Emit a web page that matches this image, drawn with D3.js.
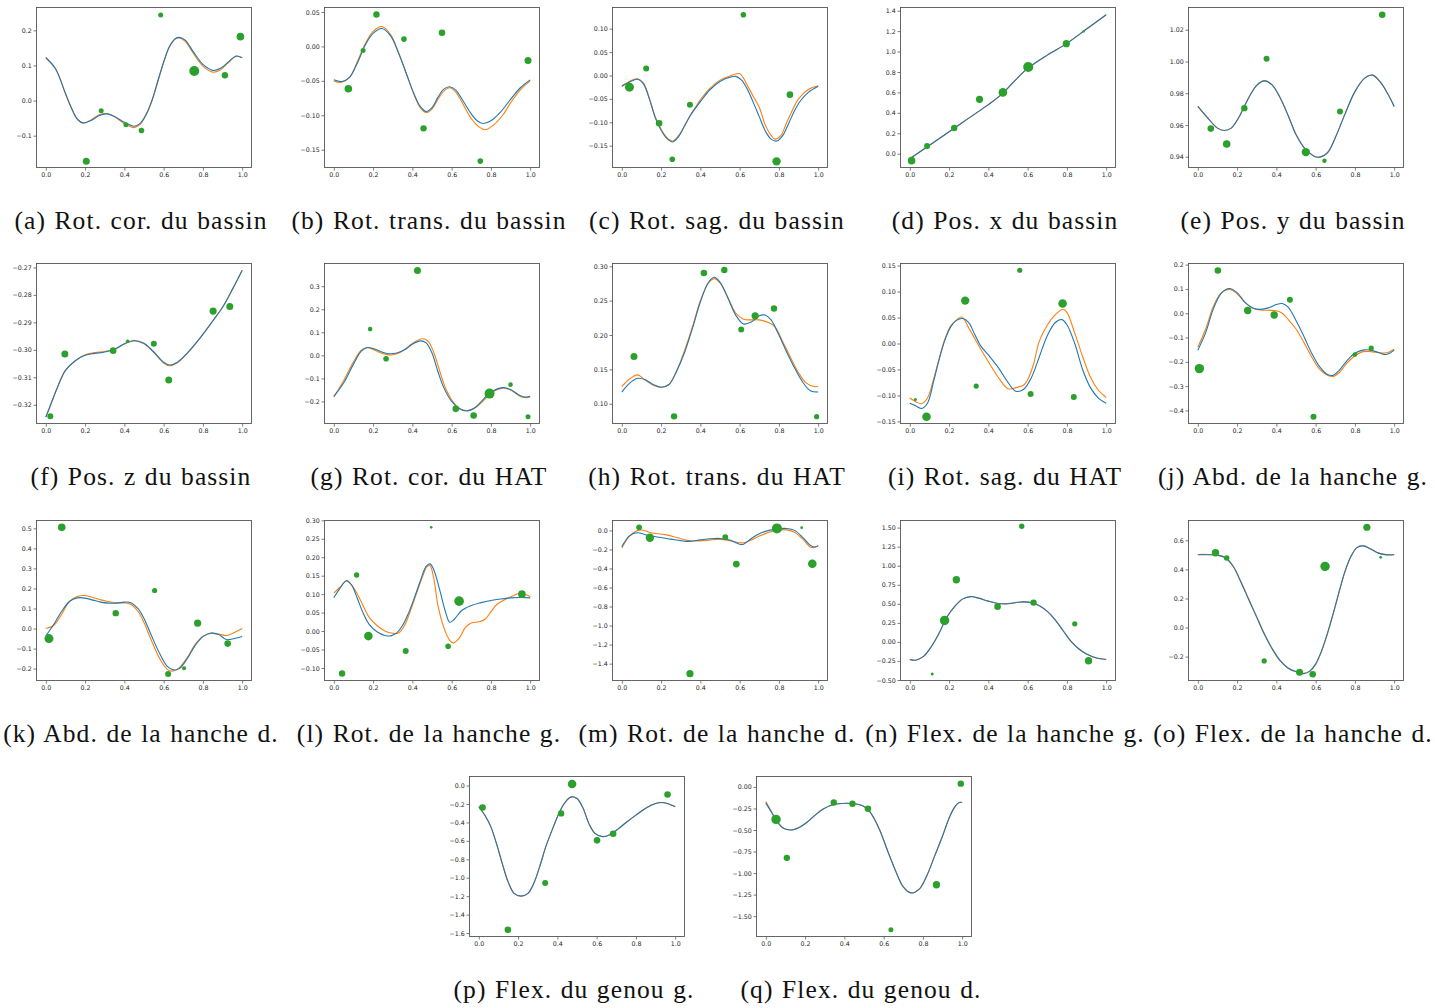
<!DOCTYPE html>
<html><head><meta charset="utf-8">
<script src="https://cdn.jsdelivr.net/npm/d3@7"></script>
<style>body{margin:0;background:#fff}svg{display:block}
.cap{font-family:"Liberation Serif","Times New Roman",serif;font-size:25.5px;letter-spacing:1.1px;word-spacing:1px;fill:#111}
.tk{font-family:"DejaVu Sans",sans-serif;font-size:6.3px;fill:#262626}
</style>
</head><body><svg id="c" width="1435" height="1008"></svg>
<script>
// ---------- data ----------
const captions = ["(a) Rot. cor. du bassin","(b) Rot. trans. du bassin","(c) Rot. sag. du bassin","(d) Pos. x du bassin","(e) Pos. y du bassin",
"(f) Pos. z du bassin","(g) Rot. cor. du HAT","(h) Rot. trans. du HAT","(i) Rot. sag. du HAT","(j) Abd. de la hanche g.",
"(k) Abd. de la hanche d.","(l) Rot. de la hanche g.","(m) Rot. de la hanche d.","(n) Flex. de la hanche g.","(o) Flex. de la hanche d.",
"(p) Flex. du genou g.","(q) Flex. du genou d."];
const xTicks = [0,0.2,0.4,0.6,0.8,1.0];
const yDomains = [[-0.192,0.2665],[-0.1766,0.0573],[-0.1977,0.1463],[-0.140,1.436],[0.9329,1.0343],
[-0.327,-0.2684],[-0.2978,0.4007],[0.0705,0.3048],[-0.155,0.155],[-0.456,0.2068],
[-0.2617,0.5417],[-0.1353,0.3009],[-1.582,0.109],[-0.513,1.60],[-0.368,0.740],
[-1.643,0.104],[-1.742,0.127]];
const yTicks = [[-0.1,0,0.1,0.2],[-0.15,-0.10,-0.05,0,0.05],[-0.15,-0.10,-0.05,0,0.05,0.10],[0,0.2,0.4,0.6,0.8,1.0,1.2,1.4],[0.94,0.96,0.98,1.00,1.02],
[-0.32,-0.31,-0.30,-0.29,-0.28,-0.27],[-0.2,-0.1,0,0.1,0.2,0.3],[0.10,0.15,0.20,0.25,0.30],[-0.15,-0.10,-0.05,0,0.05,0.10,0.15],[-0.4,-0.3,-0.2,-0.1,0,0.1,0.2],
[-0.2,-0.1,0,0.1,0.2,0.3,0.4,0.5],[-0.10,-0.05,0,0.05,0.10,0.15,0.20,0.25,0.30],[-1.4,-1.2,-1.0,-0.8,-0.6,-0.4,-0.2,0],[-0.50,-0.25,0,0.25,0.50,0.75,1.00,1.25,1.50],[-0.2,0,0.2,0.4,0.6],
[-1.6,-1.4,-1.2,-1.0,-0.8,-0.6,-0.4,-0.2,0],[-1.50,-1.25,-1.00,-0.75,-0.50,-0.25,0]];
const yDecimals = [1,2,2,1,2, 2,1,2,2,1, 1,2,1,2,1, 1,2];

const a_blue=[[0,0.122],[0.05,0.09],[0.10,0.02],[0.13,-0.02],[0.16,-0.052],[0.19,-0.064],[0.23,-0.057],[0.27,-0.043],[0.31,-0.038],[0.35,-0.045],[0.40,-0.062],[0.45,-0.073],[0.48,-0.065],[0.51,-0.04],[0.54,0.0],[0.57,0.055],[0.60,0.11],[0.63,0.155],[0.66,0.177],[0.68,0.18],[0.71,0.172],[0.75,0.14],[0.80,0.103],[0.85,0.086],[0.89,0.092],[0.93,0.11],[0.97,0.127],[1.0,0.122]];
const a_orange=[[0,0.123],[0.05,0.09],[0.10,0.02],[0.13,-0.022],[0.16,-0.053],[0.19,-0.064],[0.23,-0.055],[0.27,-0.041],[0.31,-0.037],[0.35,-0.046],[0.40,-0.066],[0.45,-0.077],[0.48,-0.068],[0.51,-0.042],[0.54,-0.002],[0.57,0.053],[0.60,0.108],[0.63,0.153],[0.66,0.175],[0.68,0.178],[0.71,0.169],[0.75,0.136],[0.80,0.098],[0.85,0.081],[0.89,0.088],[0.93,0.108],[0.97,0.126],[1.0,0.122]];
const a_pts=[[0.206,-0.173,3.5],[0.282,-0.029,2.5],[0.408,-0.069,2.5],[0.487,-0.085,2.8],[0.585,0.244,2.5],[0.756,0.084,5],[0.912,0.072,3.2],[0.991,0.182,3.8]];

const b_blue=[[0,-0.0485],[0.04,-0.051],[0.08,-0.045],[0.12,-0.024],[0.16,0.002],[0.20,0.019],[0.245,0.026],[0.29,0.015],[0.33,-0.01],[0.37,-0.04],[0.41,-0.07],[0.44,-0.087],[0.47,-0.0945],[0.50,-0.089],[0.53,-0.074],[0.56,-0.062],[0.59,-0.0585],[0.62,-0.063],[0.66,-0.08],[0.70,-0.098],[0.73,-0.108],[0.76,-0.112],[0.80,-0.108],[0.85,-0.095],[0.90,-0.077],[0.95,-0.06],[1.0,-0.0485]];
const b_orange=[[0,-0.05],[0.04,-0.052],[0.08,-0.045],[0.12,-0.022],[0.16,0.004],[0.20,0.022],[0.245,0.029],[0.29,0.017],[0.33,-0.009],[0.37,-0.04],[0.41,-0.071],[0.44,-0.089],[0.47,-0.096],[0.50,-0.091],[0.53,-0.077],[0.56,-0.065],[0.59,-0.06],[0.62,-0.066],[0.66,-0.085],[0.70,-0.105],[0.74,-0.117],[0.77,-0.121],[0.81,-0.115],[0.86,-0.1],[0.90,-0.082],[0.95,-0.063],[1.0,-0.05]];
const b_pts=[[0.074,-0.0615,3.8],[0.149,-0.006,2.5],[0.217,0.0465,3.2],[0.357,0.0107,2.8],[0.457,-0.119,3.2],[0.551,0.0199,3.3],[0.746,-0.1666,2.8],[0.989,-0.0203,3.5]];

const c_blue=[[0,-0.023],[0.04,-0.014],[0.08,-0.008],[0.11,-0.018],[0.14,-0.05],[0.17,-0.09],[0.20,-0.117],[0.23,-0.135],[0.26,-0.142],[0.29,-0.13],[0.32,-0.107],[0.35,-0.085],[0.40,-0.056],[0.45,-0.03],[0.50,-0.013],[0.55,-0.004],[0.58,-0.002],[0.61,-0.01],[0.64,-0.03],[0.67,-0.058],[0.70,-0.088],[0.73,-0.118],[0.76,-0.136],[0.79,-0.140],[0.82,-0.128],[0.85,-0.102],[0.88,-0.075],[0.91,-0.054],[0.95,-0.036],[1.0,-0.023]];
const c_orange=[[0,-0.022],[0.03,-0.015],[0.05,-0.01],[0.08,-0.007],[0.11,-0.016],[0.14,-0.048],[0.17,-0.088],[0.20,-0.115],[0.23,-0.133],[0.26,-0.14],[0.29,-0.128],[0.32,-0.108],[0.35,-0.084],[0.38,-0.065],[0.40,-0.052],[0.45,-0.027],[0.50,-0.01],[0.55,-0.001],[0.58,0.003],[0.60,0.004],[0.62,-0.006],[0.64,-0.022],[0.67,-0.045],[0.70,-0.068],[0.73,-0.105],[0.76,-0.128],[0.78,-0.136],[0.81,-0.128],[0.84,-0.1],[0.87,-0.073],[0.90,-0.05],[0.95,-0.03],[1.0,-0.022]];
const c_pts=[[0.039,-0.025,4.5],[0.124,0.015,3],[0.19,-0.102,3.3],[0.257,-0.179,2.8],[0.347,-0.0627,3],[0.619,0.1296,2.8],[0.788,-0.1835,4.2],[0.856,-0.041,3.3]];

const d_blue=[[0,-0.05],[0.1,0.083],[0.2,0.215],[0.3,0.348],[0.4,0.48],[0.47,0.585],[0.54,0.725],[0.6,0.835],[0.7,0.965],[0.8,1.08],[0.9,1.22],[1.0,1.36]];
const d_orange=[[0,-0.05],[0.1,0.083],[0.2,0.215],[0.3,0.348],[0.4,0.48],[0.47,0.585],[0.54,0.725],[0.6,0.835],[0.7,0.965],[0.8,1.08],[0.9,1.22],[1.0,1.36]];
const d_pts=[[0.009,-0.068,3.8],[0.088,0.075,3],[0.226,0.251,3.2],[0.355,0.532,3.6],[0.474,0.60,4.3],[0.603,0.848,5],[0.797,1.077,3.6],[0.885,1.197,1.2]];

const e_blue=[[0,0.9717],[0.05,0.9645],[0.10,0.958],[0.135,0.9565],[0.17,0.958],[0.21,0.965],[0.25,0.975],[0.30,0.985],[0.34,0.9878],[0.38,0.985],[0.42,0.977],[0.46,0.966],[0.50,0.954],[0.55,0.9445],[0.61,0.9397],[0.66,0.9425],[0.70,0.952],[0.75,0.967],[0.80,0.981],[0.85,0.9895],[0.89,0.9914],[0.93,0.987],[0.97,0.979],[1.0,0.9717]];
const e_orange=[[0,0.9717],[0.05,0.9645],[0.10,0.958],[0.135,0.9565],[0.17,0.958],[0.21,0.965],[0.25,0.975],[0.30,0.985],[0.34,0.9879],[0.38,0.985],[0.42,0.977],[0.46,0.966],[0.50,0.954],[0.55,0.9445],[0.61,0.9397],[0.66,0.9425],[0.70,0.952],[0.75,0.967],[0.80,0.981],[0.85,0.9895],[0.89,0.9914],[0.93,0.987],[0.97,0.979],[1.0,0.9717]];
const e_pts=[[0.066,0.9577,3.3],[0.147,0.948,3.8],[0.237,0.9706,3.2],[0.35,1.0017,3],[0.55,0.9429,4.2],[0.645,0.9375,2.2],[0.724,0.9685,3],[0.939,1.0294,3.3]];

const f_blue=[[0,-0.3245],[0.03,-0.319],[0.06,-0.3135],[0.10,-0.3075],[0.15,-0.304],[0.20,-0.302],[0.25,-0.3013],[0.30,-0.3008],[0.35,-0.2998],[0.40,-0.2978],[0.45,-0.2966],[0.50,-0.2976],[0.55,-0.3008],[0.60,-0.3045],[0.63,-0.3055],[0.67,-0.3045],[0.72,-0.3012],[0.78,-0.2962],[0.85,-0.2895],[0.90,-0.2845],[0.95,-0.278],[1.0,-0.271]];
const f_orange=[[0,-0.3245],[0.03,-0.319],[0.06,-0.3135],[0.10,-0.3075],[0.15,-0.304],[0.20,-0.3018],[0.25,-0.3010],[0.30,-0.3006],[0.35,-0.2998],[0.40,-0.2979],[0.45,-0.2968],[0.50,-0.2978],[0.55,-0.301],[0.60,-0.3048],[0.63,-0.3058],[0.67,-0.3047],[0.72,-0.3013],[0.78,-0.2962],[0.85,-0.2895],[0.90,-0.2845],[0.95,-0.278],[1.0,-0.271]];
const f_pts=[[0.023,-0.3242,3],[0.097,-0.3015,3.5],[0.343,-0.3003,3.3],[0.417,-0.2969,1.8],[0.55,-0.2978,3],[0.626,-0.311,3.5],[0.852,-0.2859,3.6],[0.937,-0.2842,3.5]];

const g_blue=[[0,-0.178],[0.05,-0.12],[0.10,-0.038],[0.14,0.018],[0.17,0.034],[0.20,0.03],[0.24,0.016],[0.28,0.007],[0.32,0.01],[0.36,0.024],[0.40,0.048],[0.44,0.063],[0.47,0.054],[0.50,0.01],[0.53,-0.07],[0.56,-0.14],[0.60,-0.2],[0.64,-0.232],[0.68,-0.241],[0.72,-0.226],[0.76,-0.192],[0.80,-0.16],[0.86,-0.14],[0.90,-0.148],[0.95,-0.175],[0.98,-0.181],[1.0,-0.178]];
const g_orange=[[0,-0.18],[0.05,-0.11],[0.10,-0.028],[0.14,0.022],[0.17,0.033],[0.20,0.026],[0.24,0.01],[0.28,0.002],[0.32,0.006],[0.36,0.024],[0.40,0.052],[0.45,0.072],[0.48,0.062],[0.51,0.01],[0.54,-0.07],[0.57,-0.145],[0.61,-0.205],[0.65,-0.235],[0.69,-0.238],[0.73,-0.222],[0.77,-0.19],[0.81,-0.158],[0.86,-0.142],[0.90,-0.15],[0.95,-0.178],[0.98,-0.184],[1.0,-0.18]];
const g_pts=[[0.185,0.114,2.3],[0.266,-0.0144,2.8],[0.426,0.368,3.5],[0.621,-0.232,3.3],[0.712,-0.261,3.3],[0.793,-0.166,5],[0.90,-0.127,2.3],[0.989,-0.266,2.5]];

const h_blue=[[0,0.117],[0.04,0.13],[0.08,0.137],[0.12,0.135],[0.16,0.128],[0.20,0.124],[0.24,0.128],[0.28,0.148],[0.32,0.175],[0.36,0.21],[0.40,0.248],[0.44,0.276],[0.47,0.284],[0.50,0.277],[0.54,0.254],[0.58,0.229],[0.62,0.216],[0.66,0.219],[0.70,0.228],[0.73,0.229],[0.76,0.222],[0.80,0.2],[0.84,0.175],[0.88,0.152],[0.92,0.132],[0.96,0.119],[1.0,0.117]];
const h_orange=[[0,0.125],[0.04,0.136],[0.08,0.142],[0.12,0.134],[0.16,0.127],[0.20,0.124],[0.24,0.128],[0.28,0.148],[0.32,0.178],[0.36,0.212],[0.40,0.25],[0.44,0.275],[0.47,0.282],[0.50,0.276],[0.54,0.255],[0.58,0.232],[0.62,0.223],[0.66,0.222],[0.70,0.222],[0.74,0.219],[0.78,0.212],[0.82,0.19],[0.86,0.167],[0.90,0.145],[0.94,0.13],[0.98,0.125],[1.0,0.125]];
const h_pts=[[0.062,0.1686,3.5],[0.266,0.0816,3.2],[0.418,0.2903,3.3],[0.522,0.2947,3.2],[0.608,0.2082,3],[0.679,0.228,3.6],[0.775,0.2386,3.2],[0.992,0.0811,2.6]];

const i_blue=[[0,-0.115],[0.03,-0.12],[0.06,-0.125],[0.09,-0.115],[0.12,-0.075],[0.15,-0.03],[0.18,0.008],[0.21,0.033],[0.24,0.045],[0.27,0.048],[0.30,0.04],[0.33,0.018],[0.36,-0.004],[0.40,-0.022],[0.45,-0.046],[0.50,-0.075],[0.54,-0.092],[0.58,-0.088],[0.62,-0.065],[0.66,-0.025],[0.70,0.015],[0.74,0.04],[0.775,0.046],[0.80,0.036],[0.84,0.0],[0.88,-0.05],[0.92,-0.085],[0.96,-0.105],[1.0,-0.115]];
const i_orange=[[0,-0.105],[0.03,-0.112],[0.06,-0.116],[0.09,-0.105],[0.12,-0.07],[0.15,-0.028],[0.18,0.01],[0.21,0.035],[0.24,0.046],[0.265,0.051],[0.30,0.03],[0.33,0.01],[0.36,-0.01],[0.40,-0.035],[0.45,-0.065],[0.50,-0.087],[0.54,-0.085],[0.58,-0.08],[0.60,-0.07],[0.63,-0.04],[0.66,0.005],[0.70,0.035],[0.74,0.055],[0.78,0.066],[0.80,0.06],[0.84,0.02],[0.88,-0.025],[0.92,-0.065],[0.96,-0.09],[1.0,-0.104]];
const i_pts=[[0.028,-0.108,1.5],[0.085,-0.141,4.3],[0.282,0.0826,4.2],[0.338,-0.082,2.6],[0.56,0.141,2.6],[0.615,-0.097,3],[0.778,0.077,4.3],[0.835,-0.103,3]];

const j_blue=[[0,-0.152],[0.04,-0.08],[0.08,0.02],[0.12,0.083],[0.16,0.102],[0.20,0.085],[0.24,0.045],[0.28,0.022],[0.32,0.016],[0.36,0.022],[0.40,0.036],[0.43,0.04],[0.46,0.025],[0.50,-0.03],[0.54,-0.095],[0.58,-0.165],[0.62,-0.22],[0.66,-0.252],[0.69,-0.255],[0.72,-0.235],[0.76,-0.195],[0.80,-0.165],[0.84,-0.152],[0.88,-0.152],[0.92,-0.162],[0.96,-0.17],[1.0,-0.152]];
const j_orange=[[0,-0.14],[0.04,-0.065],[0.08,0.03],[0.12,0.085],[0.165,0.098],[0.20,0.08],[0.24,0.045],[0.28,0.02],[0.32,0.013],[0.36,0.012],[0.40,0.01],[0.43,0.0],[0.46,-0.025],[0.50,-0.065],[0.54,-0.12],[0.58,-0.18],[0.62,-0.23],[0.66,-0.255],[0.69,-0.26],[0.72,-0.245],[0.76,-0.205],[0.80,-0.175],[0.84,-0.158],[0.88,-0.158],[0.92,-0.162],[0.96,-0.163],[1.0,-0.148]];
const j_pts=[[0.008,-0.228,4.7],[0.102,0.176,3.3],[0.254,0.011,3.7],[0.389,-0.007,3.7],[0.469,0.056,3],[0.589,-0.426,3],[0.80,-0.17,2.4],[0.883,-0.144,2.6]];

const k_blue=[[0,-0.037],[0.04,0.02],[0.08,0.085],[0.12,0.135],[0.16,0.153],[0.20,0.152],[0.24,0.142],[0.28,0.132],[0.32,0.127],[0.36,0.127],[0.40,0.132],[0.43,0.13],[0.47,0.1],[0.50,0.05],[0.54,-0.04],[0.58,-0.125],[0.62,-0.19],[0.65,-0.206],[0.68,-0.2],[0.72,-0.15],[0.76,-0.085],[0.80,-0.04],[0.84,-0.022],[0.88,-0.03],[0.92,-0.055],[0.96,-0.05],[1.0,-0.04]];
const k_orange=[[0,0.0],[0.04,0.015],[0.08,0.07],[0.12,0.135],[0.16,0.16],[0.20,0.165],[0.24,0.155],[0.28,0.143],[0.32,0.135],[0.36,0.128],[0.40,0.128],[0.43,0.122],[0.47,0.085],[0.50,0.03],[0.54,-0.065],[0.58,-0.15],[0.62,-0.205],[0.65,-0.212],[0.68,-0.195],[0.72,-0.145],[0.76,-0.08],[0.80,-0.04],[0.84,-0.025],[0.88,-0.028],[0.92,-0.035],[0.96,-0.02],[1.0,0.0]];
const k_pts=[[0.016,-0.05,4.5],[0.081,0.505,3.8],[0.356,0.077,3.2],[0.554,0.19,2.6],[0.623,-0.227,3],[0.704,-0.198,2],[0.773,0.027,3.6],[0.926,-0.075,3.3]];

const l_blue=[[0,0.09],[0.03,0.115],[0.065,0.137],[0.09,0.125],[0.12,0.088],[0.15,0.048],[0.18,0.018],[0.22,-0.002],[0.26,-0.012],[0.29,-0.013],[0.32,-0.005],[0.35,0.015],[0.38,0.048],[0.41,0.09],[0.44,0.135],[0.47,0.175],[0.49,0.182],[0.51,0.165],[0.54,0.11],[0.57,0.05],[0.59,0.024],[0.61,0.03],[0.65,0.055],[0.70,0.069],[0.75,0.077],[0.80,0.083],[0.85,0.087],[0.90,0.09],[0.95,0.091],[1.0,0.09]];
const l_orange=[[0,0.103],[0.03,0.118],[0.065,0.135],[0.09,0.125],[0.12,0.1],[0.15,0.068],[0.18,0.037],[0.22,0.015],[0.26,0.0],[0.30,-0.006],[0.33,-0.005],[0.36,0.015],[0.39,0.055],[0.42,0.1],[0.45,0.145],[0.475,0.175],[0.49,0.177],[0.51,0.14],[0.53,0.07],[0.56,0.01],[0.59,-0.025],[0.61,-0.032],[0.64,-0.018],[0.67,0.01],[0.70,0.022],[0.74,0.025],[0.77,0.032],[0.80,0.052],[0.83,0.072],[0.87,0.085],[0.91,0.095],[0.95,0.103],[1.0,0.093]];
const l_pts=[[0.042,-0.115,3.2],[0.116,0.152,2.7],[0.176,-0.0136,4.3],[0.366,-0.054,3],[0.496,0.281,1.3],[0.582,-0.041,2.8],[0.638,0.081,4.8],[0.958,0.1,3.8]];

const m_blue=[[0,-0.172],[0.04,-0.055],[0.08,-0.025],[0.12,-0.045],[0.18,-0.07],[0.25,-0.092],[0.30,-0.108],[0.34,-0.116],[0.40,-0.1],[0.45,-0.088],[0.50,-0.085],[0.55,-0.102],[0.60,-0.145],[0.62,-0.145],[0.66,-0.085],[0.70,-0.035],[0.75,0.0],[0.80,0.018],[0.84,0.02],[0.88,0.0],[0.92,-0.07],[0.96,-0.158],[0.98,-0.175],[1.0,-0.161]];
const m_orange=[[0,-0.185],[0.04,-0.06],[0.09,0.005],[0.15,-0.025],[0.22,-0.045],[0.28,-0.075],[0.34,-0.108],[0.40,-0.11],[0.45,-0.1],[0.50,-0.095],[0.55,-0.108],[0.60,-0.13],[0.62,-0.13],[0.66,-0.1],[0.70,-0.06],[0.75,-0.02],[0.80,0.005],[0.84,0.005],[0.88,-0.02],[0.92,-0.09],[0.96,-0.175],[0.98,-0.18],[1.0,-0.16]];
const m_pts=[[0.088,0.032,2.9],[0.143,-0.077,4.2],[0.347,-1.505,3.6],[0.527,-0.070,2.9],[0.583,-0.354,3.4],[0.79,0.021,5],[0.916,0.028,1.4],[0.97,-0.351,4.3]];

const n_blue=[[0,-0.23],[0.03,-0.24],[0.07,-0.19],[0.11,-0.06],[0.15,0.12],[0.19,0.33],[0.23,0.47],[0.27,0.565],[0.31,0.595],[0.35,0.575],[0.40,0.535],[0.45,0.505],[0.50,0.5],[0.55,0.52],[0.58,0.525],[0.62,0.515],[0.66,0.475],[0.70,0.40],[0.74,0.29],[0.78,0.15],[0.82,0.01],[0.86,-0.09],[0.90,-0.16],[0.95,-0.21],[1.0,-0.23]];
const n_orange=[[0,-0.23],[0.03,-0.24],[0.07,-0.19],[0.11,-0.06],[0.15,0.12],[0.19,0.33],[0.23,0.47],[0.27,0.565],[0.31,0.593],[0.35,0.575],[0.40,0.535],[0.45,0.505],[0.50,0.502],[0.55,0.52],[0.58,0.525],[0.62,0.515],[0.66,0.475],[0.70,0.40],[0.74,0.29],[0.78,0.15],[0.82,0.01],[0.86,-0.09],[0.90,-0.16],[0.95,-0.21],[1.0,-0.23]];
const n_pts=[[0.114,-0.42,1.5],[0.177,0.282,4.7],[0.237,0.816,3.7],[0.447,0.463,3.3],[0.57,1.517,2.7],[0.63,0.516,3.2],[0.84,0.238,2.6],[0.91,-0.247,3.7]];

const o_blue=[[0,0.501],[0.05,0.501],[0.10,0.497],[0.14,0.48],[0.18,0.42],[0.22,0.31],[0.26,0.19],[0.30,0.07],[0.34,-0.05],[0.38,-0.15],[0.42,-0.23],[0.46,-0.28],[0.50,-0.305],[0.54,-0.317],[0.57,-0.3],[0.60,-0.25],[0.63,-0.16],[0.66,-0.04],[0.69,0.1],[0.72,0.25],[0.75,0.39],[0.78,0.49],[0.81,0.55],[0.84,0.562],[0.88,0.54],[0.92,0.512],[0.96,0.5],[1.0,0.501]];
const o_orange=[[0,0.503],[0.05,0.503],[0.10,0.499],[0.14,0.482],[0.18,0.423],[0.22,0.315],[0.26,0.195],[0.30,0.075],[0.34,-0.045],[0.38,-0.147],[0.42,-0.228],[0.46,-0.278],[0.50,-0.303],[0.54,-0.315],[0.57,-0.3],[0.60,-0.255],[0.63,-0.165],[0.66,-0.045],[0.69,0.095],[0.72,0.245],[0.75,0.385],[0.78,0.488],[0.81,0.55],[0.84,0.565],[0.88,0.542],[0.92,0.512],[0.96,0.502],[1.0,0.503]];
const o_pts=[[0.09,0.515,3.7],[0.147,0.478,2.8],[0.338,-0.23,2.6],[0.518,-0.308,3.5],[0.585,-0.322,3.3],[0.648,0.421,4.7],[0.861,0.69,3.6],[0.931,0.483,1.4]];

const p_blue=[[0,-0.23],[0.03,-0.32],[0.06,-0.44],[0.09,-0.63],[0.12,-0.85],[0.15,-1.05],[0.18,-1.17],[0.215,-1.2],[0.25,-1.17],[0.28,-1.06],[0.31,-0.88],[0.34,-0.67],[0.37,-0.5],[0.40,-0.34],[0.43,-0.21],[0.46,-0.135],[0.475,-0.122],[0.50,-0.14],[0.53,-0.24],[0.56,-0.41],[0.59,-0.515],[0.63,-0.554],[0.67,-0.53],[0.71,-0.47],[0.75,-0.4],[0.80,-0.32],[0.85,-0.245],[0.90,-0.195],[0.93,-0.183],[0.96,-0.195],[1.0,-0.23]];
const p_orange=[[0,-0.225],[0.03,-0.32],[0.06,-0.44],[0.09,-0.63],[0.12,-0.85],[0.15,-1.05],[0.18,-1.17],[0.215,-1.2],[0.25,-1.17],[0.28,-1.06],[0.31,-0.88],[0.34,-0.67],[0.37,-0.5],[0.40,-0.34],[0.43,-0.21],[0.46,-0.135],[0.475,-0.122],[0.50,-0.14],[0.53,-0.24],[0.56,-0.41],[0.59,-0.515],[0.63,-0.554],[0.67,-0.53],[0.71,-0.47],[0.75,-0.4],[0.80,-0.32],[0.85,-0.245],[0.90,-0.195],[0.93,-0.183],[0.96,-0.195],[1.0,-0.23]];
const p_pts=[[0.019,-0.237,3.3],[0.148,-1.565,3.3],[0.338,-1.058,3],[0.419,-0.302,3.2],[0.475,0.018,4.3],[0.602,-0.594,3.3],[0.684,-0.522,3.3],[0.961,-0.097,3.3]];

const q_blue=[[0,-0.185],[0.03,-0.3],[0.06,-0.41],[0.09,-0.48],[0.13,-0.5],[0.17,-0.47],[0.21,-0.41],[0.25,-0.33],[0.29,-0.26],[0.33,-0.215],[0.37,-0.195],[0.41,-0.19],[0.45,-0.195],[0.49,-0.215],[0.52,-0.26],[0.55,-0.36],[0.58,-0.5],[0.62,-0.74],[0.66,-0.97],[0.70,-1.16],[0.74,-1.23],[0.78,-1.19],[0.82,-1.03],[0.86,-0.8],[0.90,-0.57],[0.93,-0.38],[0.96,-0.24],[0.985,-0.18],[1.0,-0.18]];
const q_orange=[[0,-0.17],[0.03,-0.29],[0.06,-0.41],[0.09,-0.48],[0.13,-0.5],[0.17,-0.47],[0.21,-0.41],[0.25,-0.33],[0.29,-0.26],[0.33,-0.215],[0.37,-0.195],[0.41,-0.19],[0.45,-0.195],[0.49,-0.215],[0.52,-0.26],[0.55,-0.36],[0.58,-0.5],[0.62,-0.74],[0.66,-0.97],[0.70,-1.16],[0.74,-1.23],[0.78,-1.19],[0.82,-1.03],[0.86,-0.8],[0.90,-0.57],[0.93,-0.38],[0.96,-0.24],[0.985,-0.18],[1.0,-0.18]];
const q_pts=[[0.052,-0.377,4.7],[0.107,-0.823,3.2],[0.346,-0.18,3.2],[0.441,-0.196,3.2],[0.52,-0.254,3.3],[0.637,-1.658,2.5],[0.869,-1.135,3.7],[0.993,0.038,3.2]];

const blueSeries=[a_blue,b_blue,c_blue,d_blue,e_blue,f_blue,g_blue,h_blue,i_blue,j_blue,k_blue,l_blue,m_blue,n_blue,o_blue,p_blue,q_blue];
const orangeSeries=[a_orange,b_orange,c_orange,d_orange,e_orange,f_orange,g_orange,h_orange,i_orange,j_orange,k_orange,l_orange,m_orange,n_orange,o_orange,p_orange,q_orange];
const pointSeries=[a_pts,b_pts,c_pts,d_pts,e_pts,f_pts,g_pts,h_pts,i_pts,j_pts,k_pts,l_pts,m_pts,n_pts,o_pts,p_pts,q_pts];

// ---------- drawing ----------
const svg=d3.select('#c');
const colLeft=[36,324,612,900,1188], lastRowLeft=[469,756], rowTop=[7,263,520,776];
const W=216, H=161;
const BLUE='#1f77b4', ORANGE='#ff7f0e', GREEN='#2ca02c';

captions.forEach((cap,i)=>{
  const row=Math.floor(i/5);
  const left=row<3?colLeft[i%5]:lastRowLeft[i-15];
  const top=rowTop[row];
  const x=d3.scaleLinear().domain([-0.05,1.05]).range([left,left+W]);
  const y=d3.scaleLinear().domain(yDomains[i]).range([top+H,top]);
  const g=svg.append('g');
  const line=d3.line().x(d=>x(d[0])).y(d=>y(d[1])).curve(d3.curveCatmullRom.alpha(0.5));
  g.append('path').datum(orangeSeries[i]).attr('d',line).attr('fill','none').attr('stroke',ORANGE).attr('stroke-width',1.1);
  g.append('path').datum(blueSeries[i]).attr('d',line).attr('fill','none').attr('stroke',BLUE).attr('stroke-width',1.1);
  g.selectAll('circle').data(pointSeries[i]).join('circle')
    .attr('cx',d=>x(d[0])).attr('cy',d=>y(d[1])).attr('r',d=>d[2]).attr('fill',GREEN);
  const xa=d3.axisBottom(x).tickValues(xTicks).tickFormat(d3.format('.1f')).tickSize(2.5).tickPadding(1.8);
  const ya=d3.axisLeft(y).tickValues(yTicks[i]).tickFormat(d3.format('.'+yDecimals[i]+'f')).tickSize(2.5).tickPadding(1.8);
  [g.append('g').attr('transform',`translate(0,${top+H})`).call(xa),
   g.append('g').attr('transform',`translate(${left},0)`).call(ya)].forEach(ax=>{
    ax.attr('font-family',null).attr('font-size',null);
    ax.select('.domain').remove();
    ax.selectAll('line').attr('stroke','#444').attr('stroke-width',0.7);
    ax.selectAll('text').attr('fill',null).attr('class','tk');
  });
  g.append('rect').attr('x',left+0.5).attr('y',top+0.5).attr('width',W-1).attr('height',H-1)
    .attr('fill','none').attr('stroke','#555').attr('stroke-width',0.9);
  svg.append('text').attr('class','cap').attr('x',left+W/2-3).attr('y',top+H+61).attr('text-anchor','middle').text(cap);
});
</script></body></html>
